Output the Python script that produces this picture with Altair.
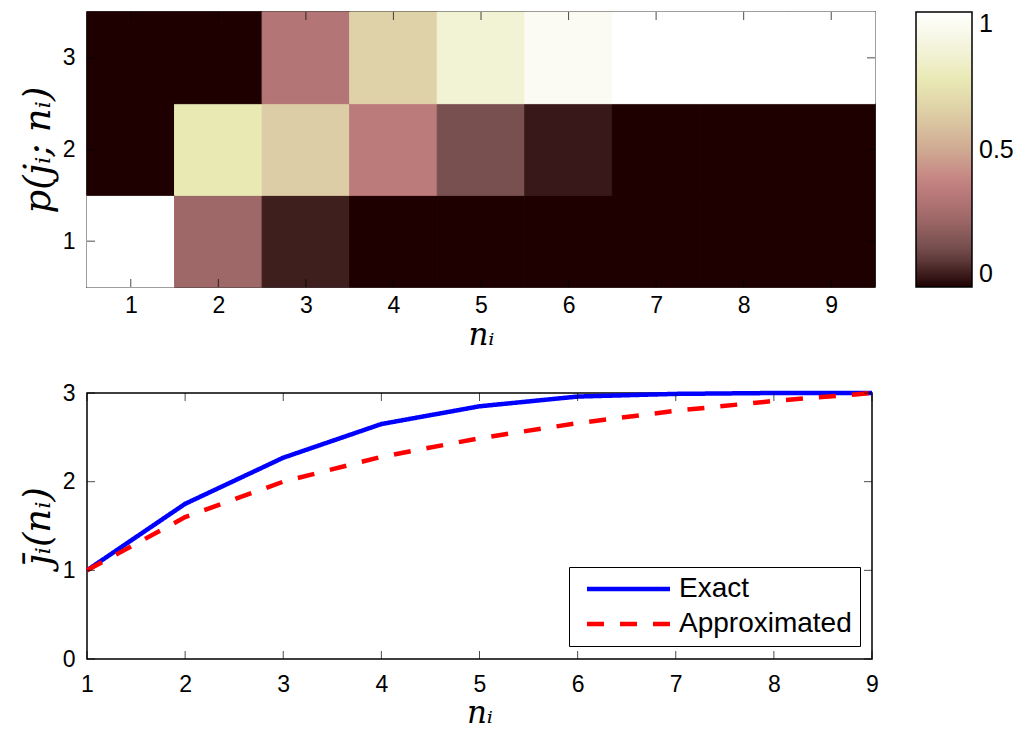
import altair as alt
import pandas as pd

# ---- data ----
n_vals = [1, 2, 3, 4, 5, 6, 7, 8, 9]
j_vals = [1, 2, 3]
p_j1 = [1.0, 0.25, 0.05, 0.0, 0.0, 0.0, 0.0, 0.0, 0.0]
p_j2 = [0.0, 0.75, 0.63, 0.35, 0.15, 0.04, 0.0, 0.0, 0.0]
p_j3 = [0.0, 0.0, 0.32, 0.65, 0.85, 0.96, 1.0, 1.0, 1.0]
exact = [1.0, 1.75, 2.27, 2.65, 2.85, 2.96, 2.99, 3.0, 3.0]
approx = [1.0, 1.6, 2.0, 2.28, 2.49, 2.66, 2.8, 2.91, 3.0]
y_ticks = [0, 1, 2, 3]
cbar_ticks = [0, 0.5, 1]
series_names = ["Exact", "Approximated"]

# MATLAB "pink" colormap stops (style)
pink_domain = [0, 0.125, 0.25, 0.375, 0.5, 0.625, 0.75, 0.875, 1]
pink_range = ["#1e0000", "#704a4a", "#9f6868", "#c38080", "#d0aa93",
              "#ddcca5", "#e9e9b4", "#f4f4dd", "#ffffff"]

rows = []
for j, arr in zip(j_vals, [p_j1, p_j2, p_j3]):
    for n, v in zip(n_vals, arr):
        rows.append({"n": n, "j": j, "p": v})
heat_df = pd.DataFrame(rows)

line_rows = []
for name, arr in zip(series_names, [exact, approx]):
    for n, v in zip(n_vals, arr):
        line_rows.append({"n": n, "val": v, "series": name})
line_df = pd.DataFrame(line_rows)

ntick_df = pd.DataFrame({"n": n_vals})
jtick_df = pd.DataFrame({"j": j_vals})
ytick_df = pd.DataFrame({"y": y_ticks})

FONT = "Liberation Sans"
SERIF = "DejaVu Serif"
W1, H1 = 788, 275
W2, H2 = 785, 266
TL = 8

ax_common = dict(labelFont=FONT, labelFontSize=23, labelColor="black",
                 titleFont=SERIF, titleFontStyle="italic",
                 titleFontWeight="normal", titleColor="black",
                 ticks=False, domain=False, grid=False, format="d", labelFlush=False)

# ---- top heatmap ----
xs1 = alt.Scale(domain=[0.5, 9.5], nice=False, zero=False)
ys1 = alt.Scale(domain=[0.5, 3.5], nice=False, zero=False)
xax1 = alt.Axis(values=n_vals, title="nᵢ", labelPadding=7, titlePadding=3, titleFontSize=31, **ax_common)
yax1 = alt.Axis(values=j_vals, title="p(jᵢ; nᵢ)", labelPadding=12, titlePadding=5, titleFontSize=37, **ax_common)
pink_scale = alt.Scale(domain=pink_domain, range=pink_range, interpolate="rgb")
# same colours for the cell outlines (hides anti-aliasing seams); domain in percent
pink_scale_pct = alt.Scale(domain=[d * 100 for d in pink_domain], range=pink_range, interpolate="rgb")

heat = alt.Chart(heat_df).transform_calculate(
    x1="datum.n - 0.5", x2="datum.n + 0.5",
    y1="datum.j - 0.5", y2="datum.j + 0.5", ppct="datum.p * 100"
).mark_rect(strokeWidth=1).encode(
    x=alt.X("x1:Q", scale=xs1, axis=xax1),
    x2="x2:Q",
    y=alt.Y("y1:Q", scale=ys1, axis=yax1),
    y2="y2:Q",
    color=alt.Color("p:Q", scale=pink_scale,
                    legend=alt.Legend(type="gradient", title=None, orient="none", legendX=829, legendY=0,
                                      direction="vertical", gradientLength=H1,
                                      gradientThickness=56, gradientStrokeColor="black",
                                      gradientStrokeWidth=1.5, values=cbar_ticks, format="~g",
                                      labelFont=FONT, labelFontSize=25, labelColor="black",
                                      labelOffset=7, padding=0)),
    stroke=alt.Stroke("ppct:Q", scale=pink_scale_pct, legend=None),
)


def xticks(df, field, scale, axis, h):
    out = []
    for yv in [h - TL / 2, TL / 2]:
        out.append(alt.Chart(df).mark_tick(orient="vertical", size=TL, thickness=1, color="black").encode(
            x=alt.X(f"{field}:Q", scale=scale, axis=axis), y=alt.value(yv)))
    return out


def yticks(df, field, scale, axis, w):
    out = []
    for xv in [TL / 2, w - TL / 2]:
        out.append(alt.Chart(df).mark_tick(orient="horizontal", size=TL, thickness=1, color="black").encode(
            y=alt.Y(f"{field}:Q", scale=scale, axis=axis), x=alt.value(xv)))
    return out


top = alt.layer(heat, *xticks(ntick_df, "n", xs1, xax1, H1),
                *yticks(jtick_df, "j", ys1, yax1, W1)).properties(width=W1, height=H1)

# ---- bottom line chart ----
xs2 = alt.Scale(domain=[1, 9], nice=False, zero=False)
ys2 = alt.Scale(domain=[0, 3], nice=False)
xax2 = alt.Axis(values=n_vals, title="nᵢ", labelPadding=14, titlePadding=2, titleFontSize=31, **ax_common)
yax2 = alt.Axis(values=y_ticks, title="j̄ᵢ(nᵢ)", labelPadding=12, titlePadding=5, titleFontSize=37, **ax_common)

leg = dict(title=None, orient="none", legendX=482, legendY=174,
           symbolType="M-1,0H7.3", symbolSize=400, symbolStrokeWidth=4.5, symbolOffset=6,
           labelFont=FONT, labelFontSize=28, labelColor="black", labelLimit=400,
           strokeColor="black", fillColor="white", padding=8,
           labelOffset=68, rowPadding=7)

lines = alt.Chart(line_df).mark_line(strokeWidth=4.5).encode(
    x=alt.X("n:Q", scale=xs2, axis=xax2),
    y=alt.Y("val:Q", scale=ys2, axis=yax2),
    color=alt.Color("series:N",
                    scale=alt.Scale(domain=series_names, range=["#0000ff", "#ff0000"]),
                    legend=alt.Legend(**leg)),
    strokeDash=alt.StrokeDash("series:N",
                              scale=alt.Scale(domain=series_names, range=[[1, 0], [17, 16]]),
                              legend=alt.Legend(**leg)),
)

bottom = alt.layer(lines, *xticks(ntick_df, "n", xs2, xax2, H2),
                   *yticks(ytick_df, "y", ys2, yax2, W2)).properties(width=W2, height=H2)

chart = alt.vconcat(top, bottom, spacing=30).resolve_scale(
    color="independent", strokeDash="independent", stroke="independent"
).resolve_legend(
    color="independent", strokeDash="independent", stroke="independent"
).configure_view(
    stroke="black", strokeWidth=1.5
).properties(padding={"left": 18, "top": 10, "right": 5, "bottom": 3}, background="white")

chart.save("out.html", embed_options={"renderer": "svg", "actions": False})
